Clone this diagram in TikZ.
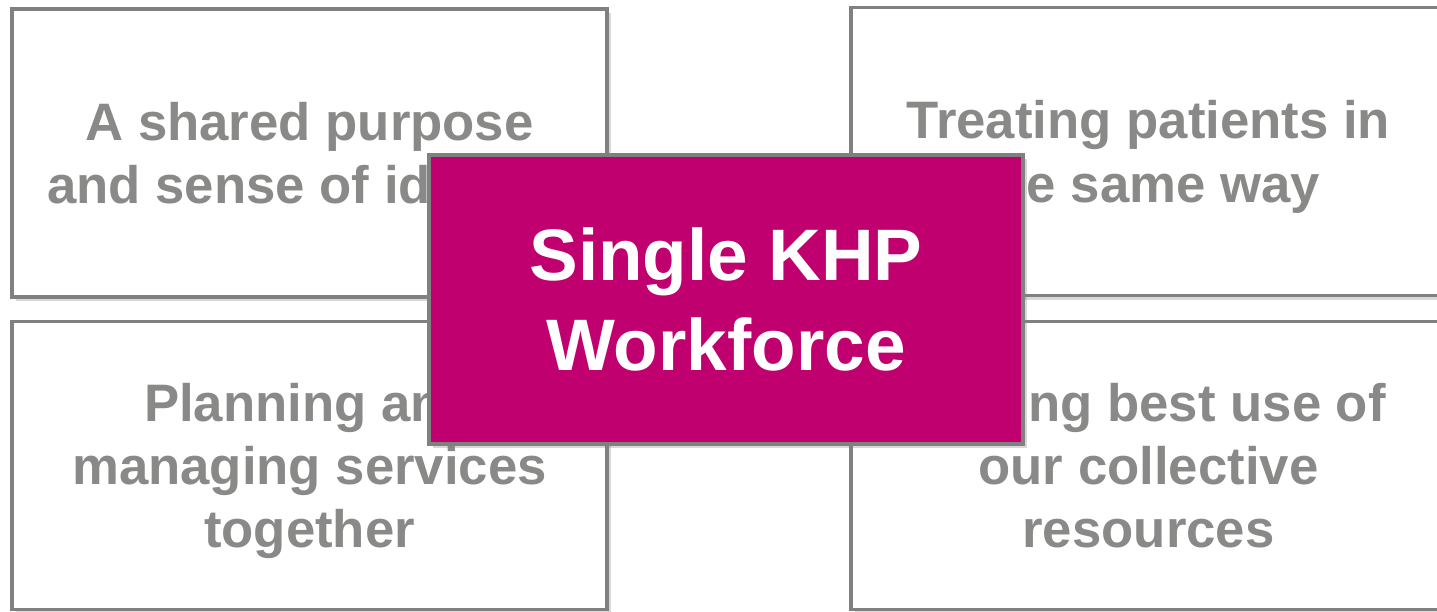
\documentclass[tikz,border=0pt]{standalone}
\usepackage{fontspec}
\setmainfont{Liberation Sans}
\usepackage{tikz}
\usetikzlibrary{shadows,positioning}

\definecolor{khpgrey}{RGB}{137,138,136}
\definecolor{khpline}{RGB}{128,128,128}
\definecolor{khpmagenta}{RGB}{192,0,111}

\begin{document}
\begin{tikzpicture}[font=\bfseries,line width=2.2pt]
          \tikzstyle{panel}=[draw=khpline,rectangle,align=center,
            drop shadow={opacity=0.3,shadow xshift=2pt,shadow yshift=-2.5pt}]
          \tikzstyle{aim}=[panel,fill=white,text=khpgrey,
            minimum width=11.9cm,minimum height=5.76cm,text depth=-0.06cm,
            font=\fontsize{30}{36}\bfseries\selectfont]
          \tikzstyle{core}=[panel,fill=khpmagenta,text=white,
            minimum width=11.88cm,minimum height=5.78cm,
            font=\fontsize{41.5}{51}\bfseries\selectfont]

          \useasboundingbox (0,0) rectangle (28.74,-12.24);

          \node[aim] (shared)   at (6.19,-3.06)  {A shared purpose\\and sense of identity};
          \node[aim] (treating) at (22.97,-3.03) {Treating patients in\\the same way};
          \node[aim] (planning) at (6.19,-9.31)  {Planning and\\managing services\\together};
          \node[aim] (making)   at (22.97,-9.31) {Making best use of\\our collective\\resources};
          \node[core] (workforce) at (14.52,-5.99) {Single KHP\\Workforce};
        \end{tikzpicture}
\end{document}
